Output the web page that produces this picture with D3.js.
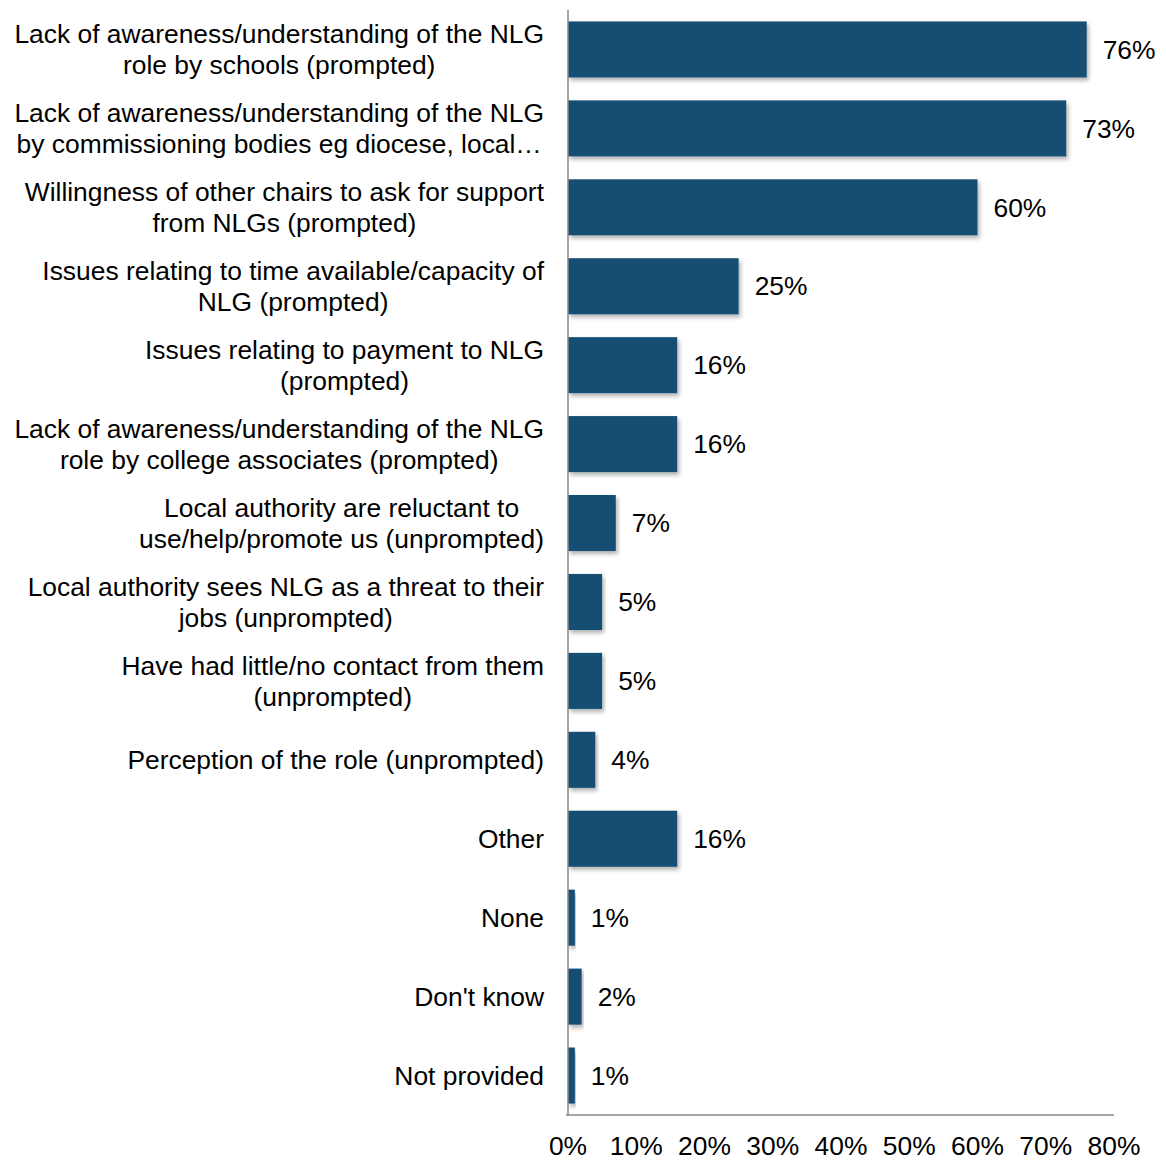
<!DOCTYPE html>
<html>
<head>
<meta charset="utf-8">
<script src="https://cdn.jsdelivr.net/npm/d3@7"></script>
<style>
  body { margin: 0; background: #fff; }
  text { font-family: "Liberation Sans", Arial, sans-serif; fill: #000; }
</style>
</head>
<body>
<div id="chart"></div>
<script>
// Category labels (each row can wrap onto two lines)
const categories = [
  ['Lack of awareness/understanding of the NLG', 'role by schools (prompted)'],
  ['Lack of awareness/understanding of the NLG', 'by commissioning bodies eg diocese, local\u2026'],
  ['Willingness of other chairs to ask for support', 'from NLGs (prompted)'],
  ['Issues relating to time available/capacity of', 'NLG (prompted)'],
  ['Issues relating to payment to NLG', '(prompted)'],
  ['Lack of awareness/understanding of the NLG', 'role by college associates (prompted)'],
  ['Local authority are reluctant to', 'use/help/promote us (unprompted)'],
  ['Local authority sees NLG as a threat to their', 'jobs (unprompted)'],
  ['Have had little/no contact from them', '(unprompted)'],
  ['Perception of the role (unprompted)'],
  ['Other'],
  ['None'],
  ["Don't know"],
  ['Not provided']
];

const values = [76, 73, 60, 25, 16, 16, 7, 5, 5, 4, 16, 1, 2, 1];

const tickValues = [0, 10, 20, 30, 40, 50, 60, 70, 80];

const width = 1166;
const height = 1160;
const fontSize = 26.4;
const lineGap = 31;

const svg = d3.select('#chart')
  .append('svg')
  .attr('width', width)
  .attr('height', height);

const defs = svg.append('defs');
const shadow = defs.append('filter')
  .attr('id', 'shadow')
  .attr('x', '-5%').attr('y', '-10%')
  .attr('width', '115%').attr('height', '130%');
shadow.append('feDropShadow')
  .attr('dx', 2).attr('dy', 3)
  .attr('stdDeviation', 2)
  .attr('flood-color', '#000')
  .attr('flood-opacity', 0.3);

const x = d3.scaleLinear()
  .domain([0, 80])
  .range([568, 1114]);

const y = d3.scaleBand()
  .domain(d3.range(categories.length))
  .range([10, 1115])
  .paddingInner(0.29)
  .paddingOuter(0.145);

// Bars
svg.append('g')
  .selectAll('rect')
  .data(values)
  .join('rect')
  .attr('x', x(0))
  .attr('y', (d, i) => y(i))
  .attr('width', d => x(d) - x(0))
  .attr('height', y.bandwidth())
  .attr('fill', '#124e72')
  .attr('filter', 'url(#shadow)');

// Value labels
svg.append('g')
  .selectAll('text')
  .data(values)
  .join('text')
  .attr('x', d => x(d) + 16)
  .attr('y', (d, i) => y(i) + y.bandwidth() / 2)
  .attr('dy', '0.35em')
  .attr('font-size', fontSize)
  .text(d => d + '%');

// Category labels: block right aligned, lines centred within block
const labelRight = 544;
const labelGroup = svg.append('g');
categories.forEach((lines, i) => {
  const cy = y(i) + y.bandwidth() / 2;
  const g = labelGroup.append('g');
  const texts = lines.map((line, j) => g.append('text')
    .attr('font-size', fontSize)
    .attr('text-anchor', 'middle')
    .attr('y', cy + (j - (lines.length - 1) / 2) * lineGap)
    .attr('dy', '0.35em')
    .text(line));
  const maxW = d3.max(texts, t => t.node().getComputedTextLength());
  texts.forEach(t => t.attr('x', labelRight - maxW / 2));
});

// Axes lines
svg.append('line')
  .attr('x1', x(0)).attr('x2', x(0))
  .attr('y1', 10).attr('y2', 1115)
  .attr('stroke', '#888').attr('stroke-width', 1.5);

svg.append('line')
  .attr('x1', x(0) - 2).attr('x2', x(80))
  .attr('y1', 1115).attr('y2', 1115)
  .attr('stroke', '#888').attr('stroke-width', 1.5);

// Tick labels
svg.append('g')
  .selectAll('text')
  .data(tickValues)
  .join('text')
  .attr('x', d => x(d))
  .attr('y', 1146)
  .attr('dy', '0.35em')
  .attr('text-anchor', 'middle')
  .attr('font-size', fontSize)
  .text(d => d + '%');
</script>
</body>
</html>
